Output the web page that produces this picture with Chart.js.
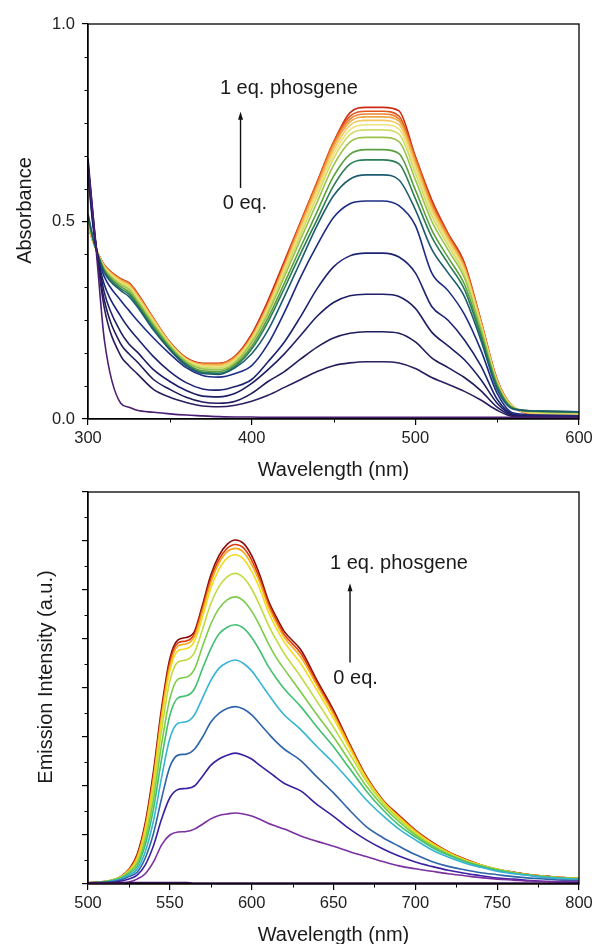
<!DOCTYPE html>
<html>
<head>
<meta charset="utf-8">
<script src="https://cdn.jsdelivr.net/npm/chart.js@4.4.1/dist/chart.umd.min.js"></script>
<style>
  html, body { margin: 0; padding: 0; background: #fff; }
  body { width: 592px; height: 944px; position: relative; overflow: hidden; }
  #abs-chart { position: absolute; left: 0; top: 0; }
  #em-chart { position: absolute; left: 0; top: 470px; }
</style>
</head>
<body>
<canvas id="abs-chart" width="592" height="490"></canvas>
<canvas id="em-chart" width="592" height="474"></canvas>
<script>
// Absorbancia: longitudes de onda (nm)
const absWl = [300, 303, 306, 310, 320, 325, 330, 340, 350, 360, 370, 380, 390, 400, 410, 420,
    430, 440, 450, 460, 470, 480, 490, 500, 510, 520, 530, 540, 550, 560, 575, 600];

// Curvas de absorbancia, de 0 eq. a 1 eq. de fosgeno
const abs0 = [0.64, 0.52, 0.38, 0.20, 0.04, 0.03, 0.022, 0.017, 0.013, 0.010, 0.008, 0.006, 0.005, 0.005, 0.004, 0.004,
    0.004, 0.004, 0.004, 0.004, 0.004, 0.004, 0.004, 0.004, 0.004, 0.004, 0.004, 0.004, 0.004, 0.004, 0.004, 0.004];
const abs1 = [0.66, 0.52, 0.40, 0.28, 0.16, 0.135, 0.115, 0.075, 0.055, 0.042, 0.033, 0.031, 0.035, 0.045, 0.06, 0.08,
    0.10, 0.12, 0.135, 0.142, 0.145, 0.145, 0.142, 0.128, 0.105, 0.088, 0.07, 0.048, 0.022, 0.006, 0.004, 0.003];
const abs2 = [0.65, 0.51, 0.40, 0.30, 0.19, 0.165, 0.145, 0.10, 0.075, 0.055, 0.043, 0.04, 0.045, 0.065, 0.095, 0.12,
    0.152, 0.182, 0.205, 0.217, 0.221, 0.221, 0.217, 0.195, 0.155, 0.13, 0.105, 0.072, 0.03, 0.008, 0.005, 0.004];
const abs3 = [0.64, 0.50, 0.41, 0.32, 0.22, 0.19, 0.17, 0.125, 0.095, 0.072, 0.058, 0.056, 0.065, 0.09, 0.125, 0.165,
    0.212, 0.26, 0.295, 0.312, 0.316, 0.316, 0.31, 0.28, 0.22, 0.185, 0.15, 0.10, 0.04, 0.01, 0.006, 0.005];
const abs4 = [0.63, 0.50, 0.41, 0.34, 0.26, 0.23, 0.205, 0.158, 0.12, 0.092, 0.076, 0.073, 0.082, 0.10, 0.145, 0.195,
    0.26, 0.33, 0.385, 0.413, 0.42, 0.42, 0.41, 0.37, 0.285, 0.25, 0.20, 0.135, 0.05, 0.012, 0.008, 0.006];
const abs5 = [0.62, 0.49, 0.41, 0.36, 0.30, 0.275, 0.25, 0.205, 0.165, 0.13, 0.11, 0.106, 0.115, 0.135, 0.19, 0.27,
    0.36, 0.44, 0.51, 0.545, 0.552, 0.552, 0.54, 0.49, 0.37, 0.325, 0.265, 0.175, 0.065, 0.015, 0.01, 0.008];
const abs6 = [0.52, 0.46, 0.415, 0.37, 0.325, 0.31, 0.285, 0.225, 0.175, 0.135, 0.115, 0.113, 0.13, 0.165, 0.225, 0.31,
    0.40, 0.49, 0.565, 0.607, 0.618, 0.618, 0.605, 0.53, 0.43, 0.37, 0.31, 0.20, 0.075, 0.025, 0.02, 0.018];
const abs7 = [0.515, 0.458, 0.416, 0.374, 0.33, 0.316, 0.29, 0.23, 0.178, 0.138, 0.118, 0.116, 0.134, 0.177, 0.246, 0.331,
    0.42, 0.505, 0.59, 0.645, 0.656, 0.656, 0.646, 0.558, 0.461, 0.394, 0.328, 0.21, 0.082, 0.026, 0.02, 0.018];
const abs8 = [0.51, 0.456, 0.417, 0.377, 0.335, 0.322, 0.295, 0.235, 0.181, 0.141, 0.122, 0.12, 0.138, 0.184, 0.256, 0.344,
    0.436, 0.525, 0.614, 0.67, 0.682, 0.682, 0.672, 0.58, 0.479, 0.409, 0.341, 0.218, 0.085, 0.027, 0.02, 0.017];
const abs9 = [0.505, 0.455, 0.418, 0.38, 0.34, 0.328, 0.30, 0.24, 0.185, 0.145, 0.127, 0.125, 0.143, 0.193, 0.267, 0.36,
    0.456, 0.549, 0.642, 0.701, 0.713, 0.713, 0.702, 0.606, 0.501, 0.428, 0.357, 0.228, 0.089, 0.028, 0.018, 0.016];
const abs10 = [0.50, 0.453, 0.418, 0.382, 0.343, 0.332, 0.305, 0.244, 0.188, 0.148, 0.131, 0.129, 0.147, 0.198, 0.275, 0.37,
    0.468, 0.564, 0.659, 0.72, 0.732, 0.732, 0.721, 0.622, 0.515, 0.439, 0.366, 0.234, 0.092, 0.029, 0.017, 0.015];
const abs11 = [0.498, 0.452, 0.419, 0.384, 0.346, 0.335, 0.308, 0.247, 0.19, 0.15, 0.134, 0.132, 0.15, 0.201, 0.279, 0.376,
    0.477, 0.574, 0.67, 0.732, 0.745, 0.745, 0.734, 0.633, 0.524, 0.447, 0.373, 0.238, 0.093, 0.029, 0.016, 0.014];
const abs12 = [0.496, 0.451, 0.419, 0.386, 0.349, 0.338, 0.311, 0.25, 0.191, 0.151, 0.136, 0.135, 0.153, 0.204, 0.284, 0.382,
    0.484, 0.582, 0.68, 0.743, 0.756, 0.756, 0.745, 0.643, 0.531, 0.454, 0.378, 0.242, 0.095, 0.03, 0.015, 0.013];
const abs13 = [0.494, 0.451, 0.419, 0.387, 0.351, 0.34, 0.314, 0.252, 0.192, 0.152, 0.138, 0.137, 0.155, 0.207, 0.287, 0.386,
    0.49, 0.589, 0.689, 0.752, 0.765, 0.765, 0.754, 0.65, 0.538, 0.459, 0.383, 0.245, 0.096, 0.03, 0.014, 0.012];
const abs14 = [0.492, 0.45, 0.42, 0.388, 0.353, 0.342, 0.316, 0.253, 0.193, 0.153, 0.139, 0.139, 0.157, 0.208, 0.29, 0.39,
    0.494, 0.594, 0.695, 0.759, 0.772, 0.772, 0.76, 0.656, 0.543, 0.463, 0.386, 0.247, 0.097, 0.03, 0.013, 0.011];
const abs15 = [0.491, 0.45, 0.42, 0.389, 0.354, 0.344, 0.318, 0.254, 0.194, 0.154, 0.14, 0.14, 0.158, 0.21, 0.292, 0.393,
    0.499, 0.60, 0.701, 0.766, 0.779, 0.779, 0.767, 0.662, 0.548, 0.467, 0.39, 0.249, 0.097, 0.03, 0.013, 0.011];
const abs16 = [0.49, 0.45, 0.42, 0.39, 0.355, 0.345, 0.32, 0.255, 0.195, 0.155, 0.141, 0.141, 0.16, 0.215, 0.30, 0.40,
    0.50, 0.60, 0.70, 0.775, 0.789, 0.789, 0.78, 0.665, 0.555, 0.47, 0.395, 0.25, 0.10, 0.03, 0.012, 0.01];

const absColors = ['#4a1f73', '#2b1d5e', '#1f1c5c', '#1d1f66', '#1c2470', '#1c2c84', '#1d5c6e', '#2a7d55', '#5aa03c',
    '#9cc24a', '#d2dc6a', '#eee27a', '#f2c860', '#f0a848', '#ec8230', '#e2561c', '#cc2a10'];

// Emision: longitudes de onda (nm)
const emWl = [500, 510, 515, 520, 525, 530, 535, 540, 545, 550, 555, 560, 565, 570, 575, 580, 585, 590, 595, 600,
    605, 610, 615, 620, 630, 640, 650, 660, 670, 680, 690, 700, 710, 720, 730, 740, 750, 760, 770, 780, 790, 800];

const em0 = [0.03, 0.03, 0.03, 0.03, 0.03, 0.03, 0.03, 0.03, 0.03, 0.03, 0.03, 0.03, 0.02, 0.02, 0.02, 0.02, 0.02, 0.02, 0.02, 0.02,
    0.02, 0.02, 0.02, 0.02, 0.02, 0.02, 0.02, 0.02, 0.02, 0.02, 0.02, 0.02, 0.02, 0.02, 0.02, 0.02, 0.02, 0.02, 0.02, 0.02, 0.02, 0.02];
const em1 = [0.0, 0.01, 0.01, 0.02, 0.04, 0.10, 0.21, 0.45, 0.80, 1.00, 1.06, 1.07, 1.12, 1.22, 1.33, 1.40, 1.43, 1.45, 1.43, 1.39,
    1.32, 1.24, 1.18, 1.12, 0.98, 0.87, 0.77, 0.66, 0.56, 0.46, 0.37, 0.31, 0.26, 0.21, 0.17, 0.13, 0.10, 0.08, 0.06, 0.05, 0.05, 0.05];
const em2 = [0.01, 0.02, 0.03, 0.06, 0.10, 0.18, 0.39, 0.78, 1.33, 1.76, 1.93, 1.95, 2.00, 2.20, 2.42, 2.55, 2.63, 2.67, 2.63, 2.55,
    2.42, 2.30, 2.17, 2.05, 1.90, 1.62, 1.38, 1.12, 0.90, 0.72, 0.57, 0.45, 0.36, 0.28, 0.22, 0.17, 0.12, 0.10, 0.07, 0.05, 0.04, 0.03];
const em3 = [0.01, 0.03, 0.05, 0.08, 0.15, 0.24, 0.53, 1.03, 1.75, 2.39, 2.63, 2.65, 2.75, 3.00, 3.30, 3.48, 3.58, 3.62, 3.57, 3.45,
    3.27, 3.08, 2.90, 2.75, 2.52, 2.18, 1.86, 1.50, 1.17, 0.95, 0.77, 0.60, 0.46, 0.36, 0.29, 0.23, 0.19, 0.15, 0.12, 0.10, 0.08, 0.07];
const em4 = [0.02, 0.04, 0.06, 0.10, 0.18, 0.30, 0.66, 1.29, 2.18, 2.97, 3.28, 3.31, 3.45, 3.80, 4.15, 4.40, 4.52, 4.57, 4.50, 4.35,
    4.12, 3.88, 3.65, 3.45, 3.15, 2.80, 2.47, 2.10, 1.72, 1.40, 1.12, 0.90, 0.70, 0.55, 0.43, 0.34, 0.26, 0.21, 0.17, 0.13, 0.11, 0.10];
const em5 = [0.02, 0.04, 0.07, 0.12, 0.21, 0.36, 0.80, 1.53, 2.56, 3.44, 3.80, 3.84, 3.98, 4.40, 4.80, 5.10, 5.24, 5.29, 5.22, 5.03,
    4.76, 4.45, 4.20, 3.98, 3.62, 3.20, 2.80, 2.35, 1.90, 1.52, 1.20, 0.96, 0.75, 0.59, 0.46, 0.36, 0.28, 0.22, 0.18, 0.14, 0.12, 0.10];
const em6 = [0.02, 0.05, 0.08, 0.13, 0.24, 0.42, 0.90, 1.72, 2.86, 3.78, 4.18, 4.22, 4.38, 4.85, 5.30, 5.62, 5.80, 5.86, 5.78, 5.57,
    5.27, 4.92, 4.62, 4.38, 3.92, 3.45, 3.00, 2.50, 2.00, 1.60, 1.27, 1.00, 0.78, 0.61, 0.47, 0.37, 0.29, 0.23, 0.18, 0.15, 0.12, 0.11];
const em7 = [0.02, 0.05, 0.08, 0.14, 0.26, 0.46, 1.00, 1.91, 3.14, 4.14, 4.53, 4.57, 4.72, 5.20, 5.72, 6.07, 6.27, 6.34, 6.25, 6.02,
    5.68, 5.30, 4.98, 4.70, 4.23, 3.72, 3.20, 2.65, 2.10, 1.66, 1.32, 1.03, 0.80, 0.63, 0.48, 0.38, 0.30, 0.23, 0.18, 0.15, 0.12, 0.11];
const em8 = [0.02, 0.05, 0.08, 0.14, 0.27, 0.50, 1.10, 2.06, 3.35, 4.35, 4.76, 4.80, 4.95, 5.45, 6.03, 6.42, 6.65, 6.72, 6.63, 6.38,
    6.02, 5.57, 5.22, 4.93, 4.50, 3.95, 3.38, 2.76, 2.15, 1.69, 1.35, 1.06, 0.83, 0.64, 0.49, 0.38, 0.30, 0.23, 0.18, 0.15, 0.12, 0.11];
const em9 = [0.02, 0.05, 0.08, 0.15, 0.28, 0.54, 1.15, 2.15, 3.44, 4.44, 4.86, 4.90, 5.05, 5.57, 6.15, 6.55, 6.78, 6.85, 6.77, 6.52,
    6.15, 5.68, 5.33, 5.03, 4.63, 4.05, 3.46, 2.80, 2.17, 1.70, 1.37, 1.08, 0.84, 0.65, 0.50, 0.39, 0.30, 0.23, 0.19, 0.15, 0.13, 0.12];
const em10 = [0.02, 0.05, 0.08, 0.15, 0.29, 0.57, 1.19, 2.20, 3.51, 4.52, 4.92, 4.96, 5.10, 5.64, 6.22, 6.62, 6.85, 6.93, 6.86, 6.61,
    6.22, 5.74, 5.39, 5.09, 4.71, 4.10, 3.50, 2.83, 2.19, 1.71, 1.39, 1.09, 0.85, 0.66, 0.51, 0.39, 0.30, 0.24, 0.19, 0.16, 0.13, 0.12];
const em11 = [0.02, 0.05, 0.08, 0.15, 0.30, 0.60, 1.25, 2.30, 3.60, 4.60, 4.98, 5.03, 5.15, 5.70, 6.30, 6.70, 6.93, 7.02, 6.95, 6.70,
    6.30, 5.80, 5.45, 5.15, 4.78, 4.15, 3.55, 2.85, 2.20, 1.72, 1.40, 1.10, 0.86, 0.66, 0.51, 0.39, 0.30, 0.24, 0.19, 0.16, 0.13, 0.12];

const emColors = ['#3a0f4f', '#7b2fa0', '#3a1fa0', '#2f64a8', '#36b4d2', '#40c070', '#7ccc48', '#c0dc40', '#f2dc20',
    '#f8a818', '#e03a10', '#8a0c06'];

// Marcas de eje (principales y secundarias)
const absXMinor = [350, 450, 550];
const absYMinor = [0.083, 0.167, 0.25, 0.333, 0.417, 0.583, 0.667, 0.75, 0.833, 0.917];
const emXMinor = [525, 575, 625, 675, 725, 775];
const emYMinor = [0.5, 1.5, 2.5, 3.5, 4.5, 5.5, 6.5, 7.5];

Chart.defaults.font.family = '"Liberation Sans", Arial, sans-serif';

// Caja, marcas secundarias, titulos de ejes y flecha
const decor = {
    id: 'decor',
    afterDraw(chart, args, o) {
        const ctx = chart.ctx;
        const a = chart.chartArea;
        const x = chart.scales.x;
        const y = chart.scales.y;
        ctx.save();
        ctx.strokeStyle = '#000';
        ctx.lineWidth = 1.3;
        ctx.strokeRect(a.left, a.top, a.right - a.left, a.bottom - a.top);

        ctx.lineWidth = 1;
        ctx.beginPath();
        o.xMinor.forEach(v => {
            const px = Math.round(x.getPixelForValue(v)) + 0.5;
            ctx.moveTo(px, a.bottom);
            ctx.lineTo(px, a.bottom + 3.5);
        });
        o.yMinor.forEach(v => {
            const py = Math.round(y.getPixelForValue(v)) + 0.5;
            ctx.moveTo(a.left, py);
            ctx.lineTo(a.left - 3.5, py);
        });
        ctx.stroke();

        ctx.fillStyle = '#1a1a1a';
        ctx.font = '20px "Liberation Sans", Arial, sans-serif';
        ctx.textAlign = 'center';
        ctx.textBaseline = 'middle';
        ctx.fillText(o.xTitle, (a.left + a.right) / 2, a.bottom + 51);
        ctx.save();
        ctx.translate(o.yTitleX, (a.top + a.bottom) / 2 - 11);
        ctx.rotate(-Math.PI / 2);
        ctx.fillText(o.yTitle, 0, 0);
        ctx.restore();

        // Anotacion: 0 eq. -> 1 eq. phosgene
        const n = o.note;
        ctx.textAlign = 'left';
        ctx.fillText('1 eq. phosgene', x.getPixelForValue(n.topX), y.getPixelForValue(n.topY));
        ctx.fillText('0 eq.', x.getPixelForValue(n.lowX), y.getPixelForValue(n.lowY));
        const ax = x.getPixelForValue(n.arrowX);
        const y0 = y.getPixelForValue(n.arrowFrom);
        const y1 = y.getPixelForValue(n.arrowTo);
        ctx.lineWidth = 1.4;
        ctx.strokeStyle = '#111';
        ctx.beginPath();
        ctx.moveTo(ax, y0);
        ctx.lineTo(ax, y1 + 5);
        ctx.stroke();
        ctx.fillStyle = '#111';
        ctx.beginPath();
        ctx.moveTo(ax, y1);
        ctx.lineTo(ax - 2.5, y1 + 8);
        ctx.lineTo(ax + 2.5, y1 + 8);
        ctx.closePath();
        ctx.fill();
        ctx.restore();
    }
};

function lineSets(xs, series, colors) {
    return series.map((s, i) => ({
        data: xs.map((w, j) => ({ x: w, y: s[j] })),
        borderColor: colors[i],
        borderWidth: 1.6,
        pointRadius: 0,
        fill: false,
        cubicInterpolationMode: 'monotone'
    }));
}

function axis(min, max, step, extra) {
    return Object.assign({
        type: 'linear',
        min: min,
        max: max,
        ticks: { stepSize: step, color: '#222', font: { size: 16.5 }, maxRotation: 0 },
        grid: { drawOnChartArea: false, drawTicks: true, tickLength: 6, color: '#000', lineWidth: 1.2 },
        border: { color: '#000', width: 1.3 }
    }, extra);
}

function makeChart(id, datasets, scales, pad, decorOpts) {
    return new Chart(document.getElementById(id), {
        type: 'line',
        data: { datasets: datasets },
        options: {
            responsive: false,
            animation: false,
            events: [],
            layout: { padding: pad },
            plugins: { legend: { display: false }, tooltip: { enabled: false }, decor: decorOpts },
            scales: scales
        },
        plugins: [decor]
    });
}

// Ancho/alto fijos de los ejes, sin reserva extra para la ultima etiqueta
function fixX(h) {
    return s => { s.height = h; s.paddingLeft = 0; s.paddingRight = 0; };
}
function fixY(w) {
    return s => { s.width = w; s.paddingTop = 0; s.paddingBottom = 0; };
}

// Grafico superior: absorbancia
const absX = axis(300, 600, 100, { afterFit: fixX(71) });
absX.ticks.padding = 4;
const absY = axis(0, 1, 0.5, { afterFit: fixY(88) });
absY.ticks.padding = 7;
absY.ticks.callback = v => v.toFixed(1);

makeChart('abs-chart',
    lineSets(absWl, [abs0, abs1, abs2, abs3, abs4, abs5, abs6, abs7, abs8, abs9, abs10, abs11, abs12, abs13, abs14, abs15, abs16], absColors),
    { x: absX, y: absY },
    { top: 24, right: 13, left: 0, bottom: 0 },
    {
        xMinor: absXMinor, yMinor: absYMinor,
        xTitle: 'Wavelength (nm)', yTitle: 'Absorbance', yTitleX: 25,
        note: { topX: 380.6, topY: 0.836, lowX: 382.3, lowY: 0.545, arrowX: 393.2, arrowFrom: 0.585, arrowTo: 0.778 }
    });

// Grafico inferior: emision
const emX = axis(500, 800, 50, { afterFit: fixX(60) });
emX.ticks.padding = 4;
const emY = axis(0, 8, 1, { afterFit: fixY(88) });
emY.ticks.display = false;

makeChart('em-chart',
    lineSets(emWl, [em0, em1, em2, em3, em4, em5, em6, em7, em8, em9, em10, em11], emColors),
    { x: emX, y: emY },
    { top: 22, right: 13, left: 0, bottom: 0 },
    {
        xMinor: emXMinor, yMinor: emYMinor,
        xTitle: 'Wavelength (nm)', yTitle: 'Emission Intensity (a.u.)', yTitleX: 46,
        note: { topX: 647.9, topY: 6.55, lowX: 649.9, lowY: 4.19, arrowX: 660.1, arrowFrom: 4.52, arrowTo: 6.14 }
    });
</script>
</body>
</html>
